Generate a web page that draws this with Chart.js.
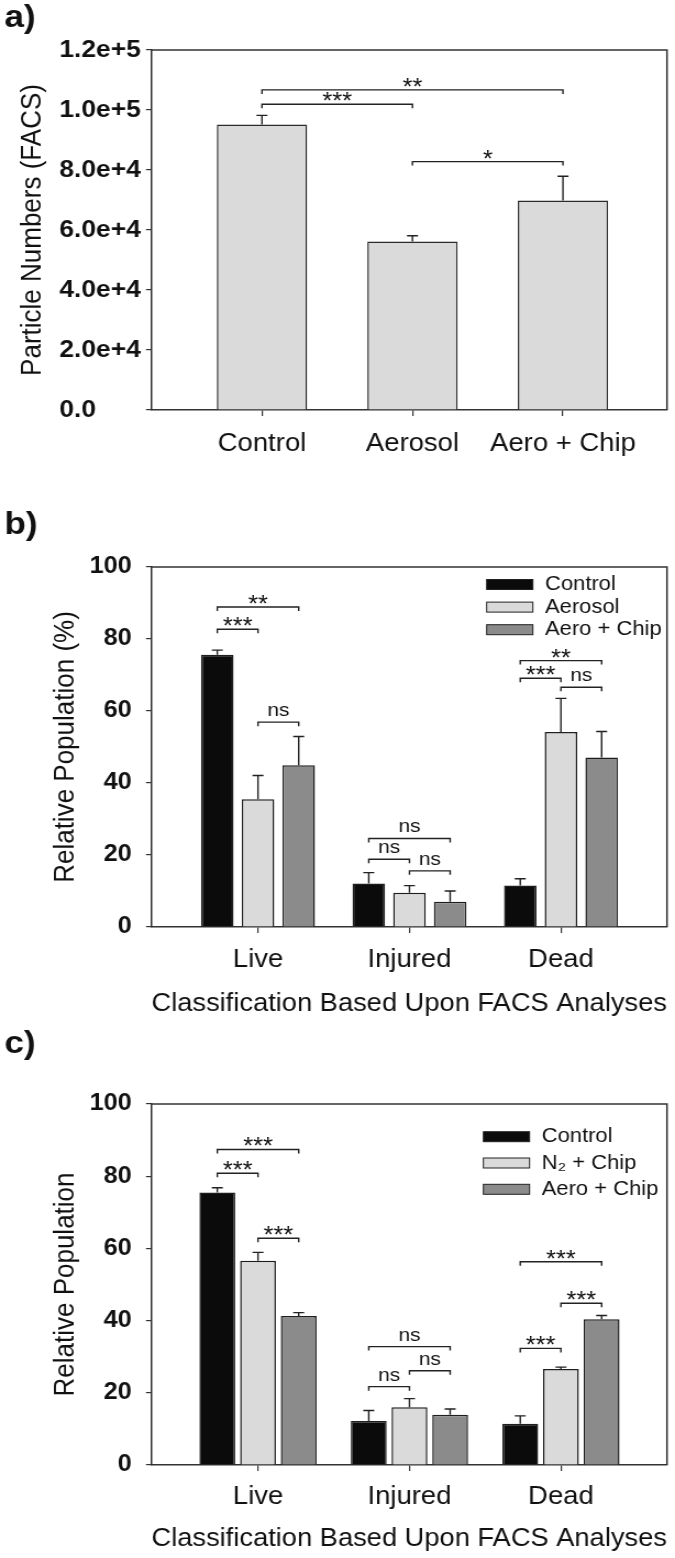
<!DOCTYPE html>
<html lang="en">
<head>
<meta charset="utf-8">
<title>FACS particle numbers and relative populations</title>
<script src="https://cdn.jsdelivr.net/npm/chart.js@4.4.1/dist/chart.umd.min.js"></script>
<style>
	body { margin: 0; background: #fff; }
	.panel { position: absolute; left: 0; }
</style>
</head>
<body>
	<div class="panel" style="top:0"><canvas id="chart-a" width="614" height="480" style="width:675px;height:480px"></canvas></div>
	<div class="panel" style="top:480px"><canvas id="chart-b" width="614" height="540" style="width:675px;height:540px"></canvas></div>
	<div class="panel" style="top:1020px"><canvas id="chart-c" width="614" height="538" style="width:675px;height:538px"></canvas></div>

<script>
// ---- data ----
var treatmentsA = ['Control', 'Aerosol', 'Aero + Chip'];
var particleMean = [95200, 56200, 69800];
var particleErr = [3000, 1900, 8100];

var classes = ['Live', 'Injured', 'Dead'];

var seriesB = ['Control', 'Aerosol', 'Aero + Chip'];
var bControl = [75.6, 12.1, 11.5];
var bAerosol = [35.5, 9.5, 54.2];
var bAeroChip = [44.9, 7.0, 47.1];
var bControlErr = [1.3, 3.0, 1.9];
var bAerosolErr = [6.6, 2.0, 9.3];
var bAeroChipErr = [8.0, 3.0, 7.2];

var seriesC = ['Control', 'N\u2082 + Chip', 'Aero + Chip'];
var cControl = [75.5, 12.2, 11.4];
var cN2Chip = [56.6, 16.0, 26.6];
var cAeroChip = [41.3, 13.9, 40.4];
var cControlErr = [1.3, 2.9, 2.2];
var cN2ChipErr = [2.3, 2.4, 0.5];
var cAeroChipErr = [0.9, 1.6, 1.0];

// significance brackets: [dataset, category, dataset, category, y value, text]
var bracketsA = [
	[0, 0, 0, 2, 106700, '**'],
	[0, 0, 0, 1, 101900, '***'],
	[0, 1, 0, 2, 82800, '*']
];
var bracketsB = [
	[0, 0, 2, 0, 88.9, '**'], [0, 0, 1, 0, 82.7, '***'], [1, 0, 2, 0, 56.9, 'ns'],
	[0, 1, 2, 1, 24.6, 'ns'], [0, 1, 1, 1, 18.8, 'ns'], [1, 1, 2, 1, 15.6, 'ns'],
	[0, 2, 2, 2, 74.0, '**'], [0, 2, 1, 2, 69.1, '***'], [1, 2, 2, 2, 66.6, 'ns']
];
var bracketsC = [
	[0, 0, 2, 0, 87.4, '***'], [0, 0, 1, 0, 80.8, '***'], [1, 0, 2, 0, 62.8, '***'],
	[0, 1, 2, 1, 32.8, 'ns'], [0, 1, 1, 1, 21.7, 'ns'], [1, 1, 2, 1, 26.1, 'ns'],
	[0, 2, 2, 2, 56.3, '***'], [1, 2, 2, 2, 44.8, '***'], [0, 2, 1, 2, 32.3, '***']
];

var FONT = 'Liberation Sans, Arial, sans-serif';
var INK = '#111';
var AXIS = '#333';
var fillBlack = '#0b0b0b', fillLight = '#dadada', fillDark = '#8b8b8b';

function points(values) {
	return values.map(function (v, i) { return { x: i, y: v }; });
}

// error bars, brackets, top/right frame and in-plot legend
var panelDecor = {
	id: 'panelDecor',
	afterDatasetsDraw: function (chart, args, opts) {
		var ctx = chart.ctx, area = chart.chartArea, ys = chart.scales.y;
		ctx.save();
		ctx.strokeStyle = '#222';
		ctx.lineWidth = 1.4;

		chart.data.datasets.forEach(function (ds, i) {
			chart.getDatasetMeta(i).data.forEach(function (bar, j) {
				var top = ys.getPixelForValue(ds.data[j].y + ds.errors[j]);
				ctx.beginPath();
				ctx.moveTo(bar.x, bar.y);
				ctx.lineTo(bar.x, top);
				ctx.moveTo(bar.x - opts.cap, top);
				ctx.lineTo(bar.x + opts.cap, top);
				ctx.stroke();
			});
		});

		ctx.fillStyle = INK;
		ctx.textAlign = 'center';
		ctx.textBaseline = 'alphabetic';
		(opts.brackets || []).forEach(function (b) {
			var x1 = chart.getDatasetMeta(b[0]).data[b[1]].x;
			var x2 = chart.getDatasetMeta(b[2]).data[b[3]].x;
			var y = ys.getPixelForValue(b[4]);
			ctx.beginPath();
			ctx.moveTo(x1, y + 4);
			ctx.lineTo(x1, y);
			ctx.lineTo(x2, y);
			ctx.lineTo(x2, y + 4);
			ctx.stroke();
			if (b[5] === 'ns') {
				ctx.font = '19px ' + FONT;
				ctx.fillText(b[5], (x1 + x2) / 2, y - 6);
			} else {
				ctx.font = '23px ' + FONT;
				ctx.fillText(b[5], (x1 + x2) / 2, y + 5);
			}
		});

		ctx.strokeStyle = AXIS;
		ctx.lineWidth = 1.5;
		ctx.beginPath();
		ctx.moveTo(area.left, area.top);
		ctx.lineTo(area.right, area.top);
		ctx.lineTo(area.right, area.bottom);
		ctx.stroke();

		if (opts.legend) {
			var lg = opts.legend;
			ctx.font = '20px ' + FONT;
			ctx.textAlign = 'left';
			ctx.textBaseline = 'middle';
			chart.data.datasets.forEach(function (ds, i) {
				var x = area.right - lg.right;
				var cy = area.top + lg.top + i * lg.step;
				ctx.fillStyle = ds.backgroundColor;
				ctx.fillRect(x, cy - 5, 42, 10);
				ctx.strokeStyle = '#222';
				ctx.lineWidth = 1;
				ctx.strokeRect(x, cy - 5, 42, 10);
				ctx.fillStyle = INK;
				ctx.fillText(ds.label, x + 53, cy);
			});
		}
		ctx.restore();
	}
};

function xScale(labels, min, max, height, labelPad, title, titlePad) {
	return {
		type: 'linear',
		position: 'bottom',
		min: min,
		max: max,
		offset: false,
		afterBuildTicks: function (s) { s.ticks = labels.map(function (l, i) { return { value: i }; }); },
		afterFit: function (s) { s.height = height; },
		grid: { display: true, offset: false, drawOnChartArea: false, drawTicks: true, tickLength: 6, color: AXIS, lineWidth: 1.2 },
		border: { display: true, color: AXIS, width: 1.5 },
		ticks: {
			autoSkip: false, maxRotation: 0, padding: labelPad, color: INK,
			font: { family: FONT, size: 25, lineHeight: 1.2 },
			callback: function (v) { return labels[v]; }
		},
		title: title ? { display: true, text: title, color: INK, padding: { top: 0, bottom: titlePad }, font: { family: FONT, size: 25, lineHeight: 1.2 } } : { display: false }
	};
}

function panelTitle(text, padTop, padBottom) {
	return {
		display: true, text: text, align: 'start', color: INK,
		padding: { top: padTop, bottom: padBottom },
		font: { family: FONT, size: 32, weight: 'bold', lineHeight: 1 }
	};
}

// ---- panel a ----
new Chart('chart-a', {
	type: 'bar',
	data: {
		datasets: [{
			label: 'Particle numbers',
			data: points(particleMean),
			errors: particleErr,
			yAxisID: 'y',
			backgroundColor: fillLight,
			borderColor: '#2b2b2b',
			borderWidth: 1.5,
			categoryPercentage: 1,
			barPercentage: 0.6
		}]
	},
	options: {
		responsive: false,
		animation: false,
		layout: { padding: { left: 4, right: 7.3, top: 0, bottom: 0 } },
		plugins: {
			legend: { display: false },
			tooltip: { enabled: false },
			title: panelTitle('a)', 2, 16),
			panelDecor: { cap: 5, brackets: bracketsA }
		},
		scales: {
			x: xScale(treatmentsA, -0.734, 2.691, 70, 13, null, 0),
			y: {
				position: 'left', weight: 0,
				min: 0, max: 120000,
				afterFit: function (s) { s.width = 83.8; },
				grid: { display: true, drawOnChartArea: false, drawTicks: true, tickLength: 5, color: AXIS, lineWidth: 1.2 },
				border: { display: true, color: AXIS, width: 1.5 },
				ticks: {
					stepSize: 20000, crossAlign: 'far', color: INK,
					font: { family: FONT, size: 24, weight: 'bold' },
					callback: function (v) { return v === 0 ? '0.0' : v.toExponential(1); }
				}
			},
			yTitle: {
				type: 'linear', position: 'left', weight: 1,
				afterFit: function (s) { s.width = 50; },
				grid: { display: false }, border: { display: false }, ticks: { display: false },
				title: { display: true, text: 'Particle Numbers (FACS)', color: INK, padding: { top: 10.4, bottom: 0 }, font: { family: FONT, size: 26, lineHeight: 1.2 } }
			}
		}
	},
	plugins: [panelDecor]
});

// ---- panels b and c ----
function groupedChart(id, letter, titleTop, titleBottom, names, values, errors, brackets, yTitle, height, xPad, xTitlePad, barPct, legend) {
	var colors = [fillBlack, fillLight, fillDark];
	return new Chart(id, {
		type: 'bar',
		data: {
			datasets: names.map(function (n, i) {
				return {
					label: n,
					data: points(values[i]),
					errors: errors[i],
					backgroundColor: colors[i],
					borderColor: '#1e1e1e',
					borderWidth: 1.5,
					categoryPercentage: 0.806,
					barPercentage: barPct
				};
			})
		},
		options: {
			responsive: false,
			animation: false,
			layout: { padding: { left: 4, right: 7.3, top: 0, bottom: 0 } },
			plugins: {
				legend: { display: false },
				tooltip: { enabled: false },
				title: panelTitle(letter, titleTop, titleBottom),
				panelDecor: { cap: 5, brackets: brackets, legend: legend }
			},
			scales: {
				x: xScale(classes, -0.703, 2.700, height, xPad, 'Classification Based Upon FACS Analyses', xTitlePad),
				y: {
					position: 'left',
					min: 0, max: 100,
					afterFit: function (s) { s.width = 133.8; },
					grid: { display: true, drawOnChartArea: false, drawTicks: true, tickLength: 5, color: AXIS, lineWidth: 1.2 },
					border: { display: true, color: AXIS, width: 1.5 },
					ticks: { stepSize: 20, padding: 13, color: INK, font: { family: FONT, size: 23, weight: 'bold' } },
					title: { display: true, text: yTitle, color: INK, padding: { top: 40.4, bottom: 0 }, font: { family: FONT, size: 26, lineHeight: 1.2 } }
				}
			}
		},
		plugins: [panelDecor]
	});
}

groupedChart('chart-b', 'b)', 29, 26, seriesB,
	[bControl, bAerosol, bAeroChip], [bControlErr, bAerosolErr, bAeroChipErr],
	bracketsB, 'Relative Population (%)', 93, 12, 1, 0.80,
	{ right: 164, top: 17.5, step: 22.6 });

groupedChart('chart-c', 'c)', 8, 44, seriesC,
	[cControl, cN2Chip, cAeroChip], [cControlErr, cN2ChipErr, cAeroChipErr],
	bracketsC, 'Relative Population', 93, 11, 3.5, 0.88,
	{ right: 167, top: 32.7, step: 26.3 });
</script>
</body>
</html>
